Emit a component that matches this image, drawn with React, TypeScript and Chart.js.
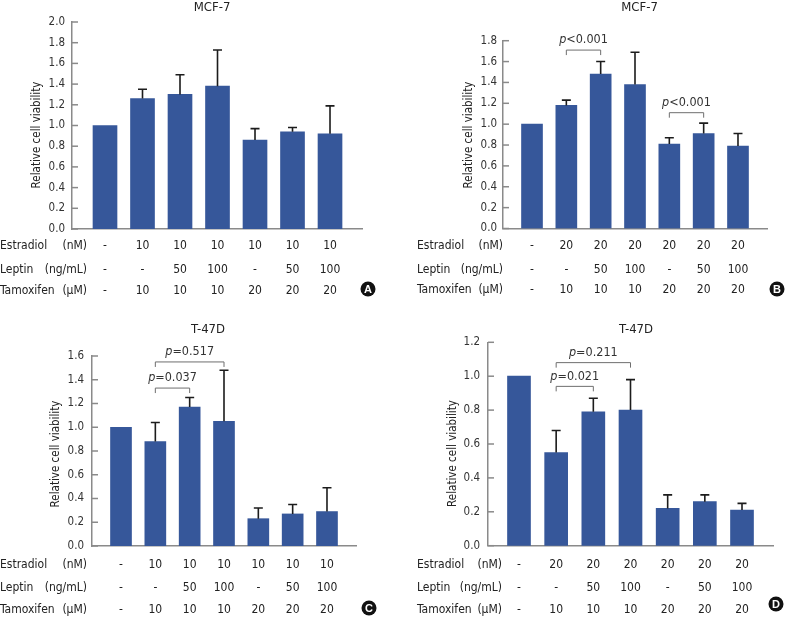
import React, { useEffect, useRef } from 'react';
import { Chart, registerables } from 'chart.js';
Chart.register(...registerables);

const FONT = "'Liberation Sans Narrow', 'DejaVu Sans Condensed', 'Arial Narrow', sans-serif";
const BAR = '#36579a';
const AXIS = '#8a8a8a';
const INK = '#222222';

// ---- data ----
const rowNames = ['Estradiol', 'Leptin', 'Tamoxifen'];
const rowUnits = ['(nM)', '(ng/mL)', '(μM)'];
const estradiol10 = ['-', '10', '10', '10', '10', '10', '10'];
const estradiol20 = ['-', '20', '20', '20', '20', '20', '20'];
const leptinDoses = ['-', '-', '50', '100', '-', '50', '100'];
const tamoxifenDoses = ['-', '10', '10', '10', '20', '20', '20'];

const meansA = [1.0, 1.26, 1.30, 1.38, 0.86, 0.94, 0.92];
const sdA = [0, 0.09, 0.19, 0.35, 0.11, 0.04, 0.27];
const meansB = [1.0, 1.18, 1.48, 1.38, 0.81, 0.91, 0.79];
const sdB = [0, 0.05, 0.12, 0.31, 0.06, 0.10, 0.12];
const meansC = [1.0, 0.88, 1.17, 1.05, 0.23, 0.27, 0.29];
const sdC = [0, 0.16, 0.08, 0.43, 0.09, 0.08, 0.20];
const meansD = [1.0, 0.55, 0.79, 0.80, 0.22, 0.26, 0.21];
const sdD = [0, 0.13, 0.08, 0.18, 0.08, 0.04, 0.04];

const yMaxA = 2.0;
const yMaxB = 1.8;
const yMaxC = 1.6;
const yMaxD = 1.2;
const yStep = 0.2;

type Pair = { from: number; to: number; at: number; text: string };
const pairsA: Pair[] = [];
const pairsB: Pair[] = [
  { from: 2, to: 3, at: 1.71, text: '<0.001' },
  { from: 5, to: 6, at: 1.11, text: '<0.001' },
];
const pairsC: Pair[] = [
  { from: 2, to: 3, at: 1.33, text: '=0.037' },
  { from: 2, to: 4, at: 1.55, text: '=0.517' },
];
const pairsD: Pair[] = [
  { from: 2, to: 3, at: 0.94, text: '=0.021' },
  { from: 2, to: 4, at: 1.08, text: '=0.211' },
];

type PanelCfg = {
  title: string;
  letter: string;
  means: number[];
  sds: number[];
  yMax: number;
  estradiol: string[];
  pairs: Pair[];
  canvas: { left: number; top: number; w: number; h: number };
  area: { left: number; top: number; right: number; bottom: number };
  xMin: number;
  xMax: number;
  barW: number;
  tickPad: number;
  titlePos: [number, number];
  yLabelPos: [number, number];
  rowsY: number[];
  labelX: number;
  unitRight: number;
  letterPos: [number, number];
};

const panels: PanelCfg[] = [
  {
    title: 'MCF-7', letter: 'A', means: meansA, sds: sdA, yMax: yMaxA, estradiol: estradiol10, pairs: pairsA,
    canvas: { left: 0, top: 0, w: 396, h: 305 },
    area: { left: 72, top: 22, right: 362, bottom: 229 },
    xMin: 0.12, xMax: 7.853, barW: 24, tickPad: 7,
    titlePos: [212, 7.5], yLabelPos: [37.5, 135], rowsY: [246, 270, 291], labelX: 0, unitRight: 87, letterPos: [368, 289],
  },
  {
    title: 'MCF-7', letter: 'B', means: meansB, sds: sdB, yMax: yMaxB, estradiol: estradiol20, pairs: pairsB,
    canvas: { left: 400, top: 0, w: 393, h: 305 },
    area: { left: 503, top: 40.7, right: 767, bottom: 228.5 },
    xMin: 0.155, xMax: 7.845, barW: 21, tickPad: 6,
    titlePos: [639.5, 7.5], yLabelPos: [469.5, 135], rowsY: [246, 270, 290], labelX: 417, unitRight: 503, letterPos: [777, 289],
  },
  {
    title: 'T-47D', letter: 'C', means: meansC, sds: sdC, yMax: yMaxC, estradiol: estradiol10, pairs: pairsC,
    canvas: { left: 0, top: 310, w: 396, h: 307 },
    area: { left: 92, top: 356, right: 356, bottom: 546 },
    xMin: 0.155, xMax: 7.845, barW: 21, tickPad: 8,
    titlePos: [208, 329.7], yLabelPos: [56, 454], rowsY: [564.5, 588, 610], labelX: 0, unitRight: 87, letterPos: [369, 608],
  },
  {
    title: 'T-47D', letter: 'D', means: meansD, sds: sdD, yMax: yMaxD, estradiol: estradiol20, pairs: pairsD,
    canvas: { left: 400, top: 310, w: 393, h: 307 },
    area: { left: 488, top: 342.3, right: 773, bottom: 545.7 },
    xMin: 0.166, xMax: 7.834, barW: 23, tickPad: 8,
    titlePos: [636, 329.7], yLabelPos: [453.5, 453.5], rowsY: [564.5, 588, 610], labelX: 417, unitRight: 502, letterPos: [776, 604],
  },
];

function makeDecor(p: PanelCfg) {
  return {
    id: 'decor' + p.letter,
    afterDraw(chart: any) {
      const ctx: CanvasRenderingContext2D = chart.ctx;
      const xs = chart.scales.x;
      const ys = chart.scales.y;
      const ca = chart.chartArea;
      const ox = p.canvas.left;
      const oy = p.canvas.top;
      ctx.save();

      // inward y ticks
      ctx.strokeStyle = AXIS;
      ctx.lineWidth = 1.5;
      ys.ticks.forEach((t: any) => {
        const py = ys.getPixelForValue(t.value);
        ctx.beginPath();
        ctx.moveTo(ca.left, py);
        ctx.lineTo(ca.left + 6, py);
        ctx.stroke();
      });

      // error bars (upper only)
      ctx.strokeStyle = '#1c1c1c';
      ctx.lineWidth = 1.6;
      p.means.forEach((m, i) => {
        const sd = p.sds[i];
        if (!sd) return;
        const px = xs.getPixelForValue(i + 1);
        const y0 = ys.getPixelForValue(m);
        const y1 = ys.getPixelForValue(m + sd);
        ctx.beginPath();
        ctx.moveTo(px, y0);
        ctx.lineTo(px, y1);
        ctx.moveTo(px - 4.5, y1);
        ctx.lineTo(px + 4.5, y1);
        ctx.stroke();
      });

      // significance brackets
      p.pairs.forEach((pr) => {
        const x1 = xs.getPixelForValue(pr.from);
        const x2 = xs.getPixelForValue(pr.to);
        const py = ys.getPixelForValue(pr.at);
        ctx.strokeStyle = '#6e6e6e';
        ctx.lineWidth = 1;
        ctx.beginPath();
        ctx.moveTo(x1, py + 5);
        ctx.lineTo(x1, py);
        ctx.lineTo(x2, py);
        ctx.lineTo(x2, py + 5);
        ctx.stroke();
        ctx.fillStyle = '#333';
        ctx.textBaseline = 'middle';
        ctx.textAlign = 'left';
        ctx.font = `italic 12.5px ${FONT}`;
        const wP = ctx.measureText('p').width;
        ctx.font = `12.5px ${FONT}`;
        const wT = ctx.measureText(pr.text).width;
        const sx = (x1 + x2) / 2 - (wP + wT) / 2;
        const ty = py - 10;
        ctx.font = `italic 12.5px ${FONT}`;
        ctx.fillText('p', sx, ty);
        ctx.font = `12.5px ${FONT}`;
        ctx.fillText(pr.text, sx + wP, ty);
      });

      // title
      ctx.fillStyle = INK;
      ctx.font = `13px ${FONT}`;
      ctx.textAlign = 'center';
      ctx.textBaseline = 'middle';
      ctx.fillText(p.title, p.titlePos[0] - ox, p.titlePos[1] - oy);

      // y axis label
      ctx.save();
      ctx.translate(p.yLabelPos[0] - ox, p.yLabelPos[1] - oy);
      ctx.rotate(-Math.PI / 2);
      ctx.font = `11.5px ${FONT}`;
      ctx.fillStyle = INK;
      ctx.fillText('Relative cell viability', 0, 0);
      ctx.restore();

      // treatment table
      const rows = [p.estradiol, leptinDoses, tamoxifenDoses];
      ctx.font = `12px ${FONT}`;
      ctx.fillStyle = INK;
      rows.forEach((vals, r) => {
        const ry = p.rowsY[r] - oy;
        ctx.textAlign = 'left';
        ctx.fillText(rowNames[r], p.labelX - ox, ry);
        ctx.textAlign = 'right';
        ctx.fillText(rowUnits[r], p.unitRight - ox, ry);
        ctx.textAlign = 'center';
        vals.forEach((v, i) => {
          ctx.fillText(v, xs.getPixelForValue(i + 1), ry);
        });
      });

      // panel letter
      ctx.beginPath();
      ctx.fillStyle = '#111';
      ctx.arc(p.letterPos[0] - ox, p.letterPos[1] - oy, 7.5, 0, Math.PI * 2);
      ctx.fill();
      ctx.fillStyle = '#fff';
      ctx.font = `bold 11px 'Liberation Sans', Arial, sans-serif`;
      ctx.textAlign = 'center';
      ctx.textBaseline = 'middle';
      ctx.fillText(p.letter, p.letterPos[0] - ox, p.letterPos[1] - oy + 0.5);

      ctx.restore();
    },
  };
}

function Panel({ p }: { p: PanelCfg }) {
  const ref = useRef<HTMLCanvasElement | null>(null);
  useEffect(() => {
    if (!ref.current) return;
    const axisW = p.area.left - p.canvas.left;
    const chart = new Chart(ref.current, {
      type: 'bar',
      data: {
        datasets: [
          {
            data: p.means.map((m, i) => ({ x: i + 1, y: m })),
            backgroundColor: BAR,
            borderWidth: 0,
            barThickness: p.barW,
          } as any,
        ],
      },
      options: {
        responsive: false,
        animation: false,
        devicePixelRatio: 1,
        layout: {
          padding: {
            left: 0,
            top: p.area.top - p.canvas.top,
            right: p.canvas.left + p.canvas.w - p.area.right,
            bottom: p.canvas.top + p.canvas.h - p.area.bottom,
          },
        },
        plugins: {
          legend: { display: false },
          tooltip: { enabled: false },
          title: { display: false },
        },
        scales: {
          x: {
            type: 'linear',
            offset: false,
            min: p.xMin,
            max: p.xMax,
            ticks: { display: false },
            grid: { display: false, drawTicks: false, offset: false },
            border: { display: true, color: AXIS, width: 1.5 },
            afterFit: (s: any) => {
              s.height = 0;
            },
          },
          y: {
            type: 'linear',
            min: 0,
            max: p.yMax,
            ticks: {
              stepSize: yStep,
              padding: p.tickPad,
              color: '#333',
              font: { family: FONT, size: 11.5 },
              callback: (v: any) => Number(v).toFixed(1),
            },
            grid: { display: false, drawTicks: false },
            border: { display: true, color: AXIS, width: 1.5 },
            afterFit: (s: any) => {
              s.width = axisW;
            },
          },
        },
      } as any,
      plugins: [makeDecor(p)],
    });
    return () => chart.destroy();
  }, [p]);
  return (
    <canvas
      ref={ref}
      width={p.canvas.w}
      height={p.canvas.h}
      style={{
        position: 'absolute',
        left: p.canvas.left,
        top: p.canvas.top,
        width: p.canvas.w,
        height: p.canvas.h,
      }}
    />
  );
}

export default function App() {
  return (
    <div style={{ position: 'absolute', left: 0, top: 0, width: 793, height: 617, background: '#fff' }}>
      {panels.map((p) => (
        <Panel key={p.letter} p={p} />
      ))}
    </div>
  );
}
